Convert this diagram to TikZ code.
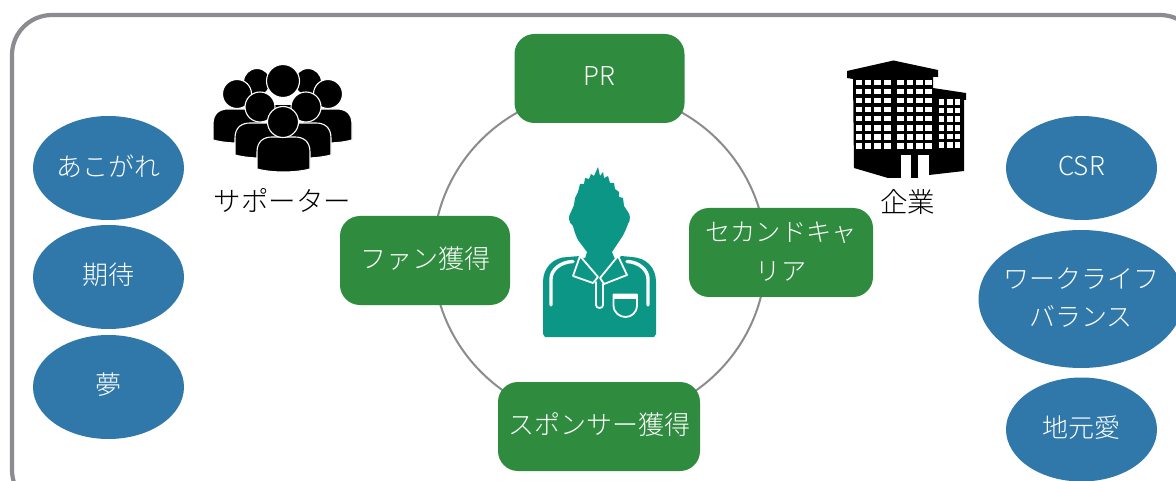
\documentclass[tikz,border=0pt]{standalone}
\usepackage{fontspec}
\setmainfont{Noto Sans CJK JP Light}
\usetikzlibrary{shapes.geometric}
\definecolor{grn}{HTML}{2F8C3F}
\definecolor{blu}{HTML}{2F78A9}
\definecolor{teal1}{HTML}{0C9686}
\definecolor{frm}{HTML}{8A8C91}
\definecolor{ringc}{HTML}{8C8C8C}
\newcommand{\up}[1]{\raisebox{2pt}[\height][\depth]{#1}}
\newcommand{\twolines}[2]{\raisebox{-0.7pt}[\height][\depth]{\begin{tabular}{@{}c@{}}#1\\#2\end{tabular}}}
\tikzset{
  x=1pt,y=-1pt,
  lbl/.style={font=\fontsize{26}{38.5}\selectfont,align=center,inner sep=0pt,outer sep=0pt},
  gbox/.style={lbl,fill=grn,text=white,rounded corners=20pt,minimum height=89pt},
  oval/.style={lbl,ellipse,fill=blu,text=white,minimum width=151pt,minimum height=104pt,inner sep=-40pt},
  blk/.style={lbl,text=black},
  sil/.style={fill=black,draw=white,line width=1.1pt},
  wh/.style={fill=white,draw=none},
  whl/.style={draw=white,line width=3.4pt,line cap=round,line join=round},
  whc/.style={draw=white,line width=1.8pt,line cap=round,line join=round},
}
\newcommand{\personbody}[4]{% x-left, x-right, top, bottom
  \path[sil] (#1,#4-3) -- (#1,#3+15) .. controls (#1,#3+4) and (#1+7,#3) .. (#1+15,#3)
    -- (#2-15,#3) .. controls (#2-7,#3) and (#2,#3+4) .. (#2,#3+15) -- (#2,#4-3)
    .. controls (#2-15,#4+1) and (#1+15,#4+1) .. (#1,#4-3) -- cycle;}
\begin{document}
\begin{tikzpicture}
\useasboundingbox (0,0) rectangle (1176,481);
\clip (0,0) rectangle (1176,481);
\fill[white] (0,0) rectangle (1176,481);
\draw[frm,line width=4.2pt,rounded corners=40pt] (12,15) rectangle (1200,510);
% ring
\node[ellipse,draw=ringc,line width=2pt,minimum width=333pt,minimum height=330pt,inner sep=0pt] (ring) at (599.5,256) {};
% green
\node[gbox,minimum width=170pt] (pr) at (599.5,78.5) {\up{PR}};
\node[gbox,minimum width=170pt] (fan) at (425,260.5) {\up{ファン獲得}};
\node[gbox,minimum width=184pt,font=\fontsize{25.2}{38.5}\selectfont] (second) at (781,252.5) {\twolines{セカンドキャ}{リア}};
\node[gbox,minimum width=202pt] (sponsor) at (599,426.5) {\up{スポンサー獲得}};
% blue
\node[oval] (a1) at (108.5,168) {\up{あこがれ}};
\node[oval] (a2) at (108.5,277) {\up{期待}};
\node[oval] (a3) at (108.5,387) {\up{夢}};
\node[oval] (c1) at (1081.5,168) {\up{CSR}};
\node[oval,minimum width=205pt,minimum height=138pt] (c2) at (1081,299) {\twolines{ワークライフ}{バランス}};
\node[oval] (c3) at (1081.5,429.5) {\up{地元愛}};
% labels
\node[blk,font=\fontsize{27.5}{33}\selectfont] (sup) at (282.5,200) {サポーター};
\node[blk,font=\fontsize{27.5}{33}\selectfont] (ent) at (907.5,202) {企業};
% crowd
\path[sil] (257,82) circle (13.5);
\path[sil] (308,82) circle (13.5);
\path[fill=black] (268,105) rectangle (298,130);
\personbody{213}{262}{109}{143}
\personbody{303}{352}{109}{143}
\path[sil] (237,94) circle (14.5);
\path[sil] (328,94) circle (14.5);
\path[sil] (283,81) circle (16.5);
\personbody{235}{285}{123}{158}
\personbody{281}{331}{123}{158}
\path[sil] (260,107) circle (15);
\path[sil] (306,107) circle (15);
\personbody{257}{310}{137}{172}
\path[sil] (283,122) circle (15.5);
% building
\fill[black] (847,71) -- (893.5,60.5) -- (938,70) -- (938,77) -- (933,77) -- (933,88)
  -- (966,93) -- (966,100) -- (964,100) -- (964,171) -- (929,175) -- (922,176) -- (922,178)
  -- (888,178) -- (854,168) -- (853,79) -- (847,78) -- cycle;
\foreach \zx in {72,99,127,157,197,225,254,281}
  \foreach \zy in {97,124.3,151.6,178.9,206.2,233.5,260.8,288}
    \fill[wh] ({835+(\zx-10)/3},{50+(\zy-8)/3}) rectangle ++(6.6,5.4);
\foreach \zx in {320,345,368}
  \foreach \zy in {155,181,207,233,259,285}
    \fill[wh] ({835+(\zx-8)/3},{50+(\zy-8)/3}) rectangle ++(5.4,5.6);
\fill[wh] (900.7,155) rectangle (911,178);
\fill[wh] (918,155) rectangle (929,178);
% player
\fill[teal1] (543,334) -- (543,282) .. controls (543,268) and (553,257) .. (568,257)
  -- (580,256) -- (581,258) -- (619,258) -- (621,256) -- (632,257)
  .. controls (647,258) and (656,268) .. (656,282) -- (656,334) -- (654,337) -- (545,337) -- cycle;
\fill[teal1] (598,167) -- (600,176) -- (603,172) -- (604,178) -- (608,176) -- (610,183)
  -- (614,183) -- (615,189) -- (619,192) -- (619,197) -- (623,198) -- (624,206)
  -- (626,209) -- (628,212) .. controls (630,214) and (631,220) .. (628,224)
  .. controls (625,232) and (623,236) .. (620,240) -- (612,252) -- (616,262) -- (600,277)
  -- (584,262) -- (587,252) -- (578,240)
  .. controls (575,234) and (574,230) .. (573,226)
  .. controls (568,222) and (568,216) .. (571,212) -- (574,205) -- (575,198) -- (578,192)
  -- (580,184) -- (584,184) -- (585,178) -- (589,179) -- (591,174) -- (594,176) -- cycle;
% player details
\draw[whl] (551,305) -- (551,279) .. controls (551,270) and (560,262) .. (573,261.5);
\draw[whl] (648,305) -- (648,279) .. controls (648,270) and (639,262) .. (627,261.5);
\draw[whc] (580,256) -- (573,276) -- (593,283) -- (598,277) -- cycle;
\draw[whc] (618,256) -- (627,275) -- (604,284) -- (600,278) -- cycle;
\draw[whc] (596,282) -- (596,305) .. controls (596,309) and (603,309) .. (603,305) -- (603,284);
\draw[whc] (613.5,294.5) -- (637,294.5) -- (637,305) .. controls (637,313) and (631,317) .. (625.5,317) .. controls (620,317) and (613.5,313) .. (613.5,305) -- cycle;
\draw[whl,line cap=butt] (614,297) -- (637,297);
\end{tikzpicture}
\end{document}
